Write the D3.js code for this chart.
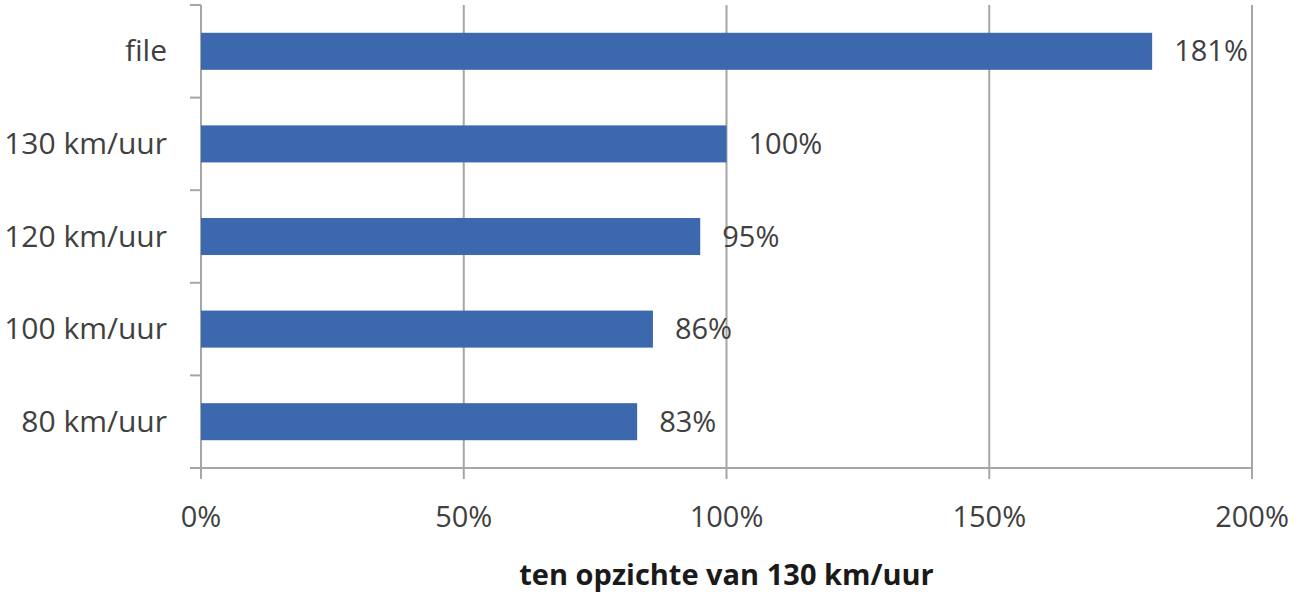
<!DOCTYPE html>
<html><head><meta charset="utf-8">
<script src="https://cdn.jsdelivr.net/npm/d3@7"></script>
<style>body{margin:0;background:#fff}svg{display:block}text{font-family:"Open Sans",sans-serif}</style>
</head><body><svg id="c" width="1299" height="595"></svg>
<script>
const categories = ["file","130 km/uur","120 km/uur","100 km/uur","80 km/uur"];
const values = [181,100,95,86,83];
const valueLabels = ["181%","100%","95%","86%","83%"];
const xTicks = [0,50,100,150,200];
const xTickLabels = ["0%","50%","100%","150%","200%"];
const axisTitle = "ten opzichte van 130 km/uur";

const svg = d3.select("#c");
const L=201, R=1252, T=5, B=468;
const x = d3.scaleLinear().domain([0,200]).range([L,R]);
const y = d3.scaleBand().domain(categories).range([T,B]).paddingInner(0.6).paddingOuter(0.3);
const grid = "#a6a6a6", txt = "#404040";

// gridlines
svg.append("g").selectAll("line").data(xTicks).join("line")
  .attr("x1",d=>x(d)).attr("x2",d=>x(d)).attr("y1",T).attr("y2",B+11)
  .attr("stroke",grid).attr("stroke-width",2);
// bottom axis line
svg.append("line").attr("x1",L-11).attr("x2",R).attr("y1",B).attr("y2",B).attr("stroke",grid).attr("stroke-width",2);
// left ticks at band edges
const edges = d3.range(categories.length+1).map(i=>T+(B-T)*i/categories.length);
svg.append("g").selectAll("line").data(edges).join("line")
  .attr("x1",L-11).attr("x2",L).attr("y1",d=>d).attr("y2",d=>d).attr("stroke",grid).attr("stroke-width",2);

// bars
svg.append("g").selectAll("rect").data(values).join("rect")
  .attr("x",x(0)).attr("y",(d,i)=>y(categories[i])).attr("width",d=>x(d)-x(0)).attr("height",y.bandwidth())
  .attr("fill","#3c69ae");

// value labels
svg.append("g").selectAll("text").data(values).join("text")
  .attr("x",d=>x(d)+22).attr("y",(d,i)=>y(categories[i])+y.bandwidth()/2+10)
  .attr("font-size",29).attr("fill",txt).text((d,i)=>valueLabels[i]);

// category labels
svg.append("g").selectAll("text").data(categories).join("text")
  .attr("x",167).attr("y",d=>y(d)+y.bandwidth()/2+10).attr("text-anchor","end")
  .attr("font-size",30).attr("fill",txt).text(d=>d);

// x tick labels
svg.append("g").selectAll("text").data(xTicks).join("text")
  .attr("x",d=>x(d)).attr("y",527).attr("text-anchor","middle")
  .attr("font-size",29).attr("fill",txt).text((d,i)=>xTickLabels[i]);

// axis title
svg.append("text").attr("x",(L+R)/2).attr("y",585).attr("text-anchor","middle")
  .attr("font-size",29).attr("font-weight","bold").attr("fill","#1a1a1a").text(axisTitle);
</script></body></html>
